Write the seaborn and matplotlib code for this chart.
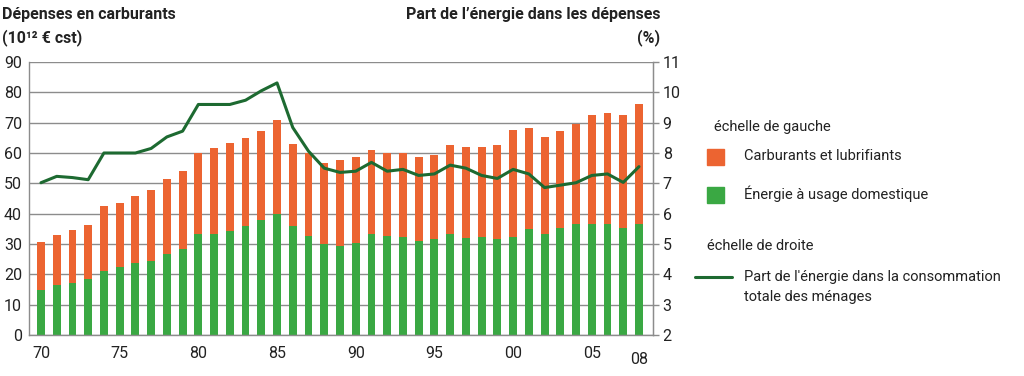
import numpy as np
import pandas as pd
import matplotlib
matplotlib.use('Agg')
import matplotlib.pyplot as plt
import matplotlib.patches as mpatches
import matplotlib.lines as mlines
import seaborn as sns

years = list(range(1970, 2009))
# total bar height (carburants + domestique), 10^12 EUR cst
total = [30.7, 33.0, 34.6, 36.2, 42.4, 43.5, 45.7, 47.7, 51.3, 54.2,
         60.0, 61.7, 63.4, 65.0, 67.2, 70.9, 63.0, 60.0, 56.8, 57.8,
         58.8, 61.1, 59.9, 59.9, 58.8, 59.3, 62.6, 62.0, 62.0, 62.6,
         67.5, 68.2, 65.2, 67.2, 69.7, 72.5, 73.2, 72.5, 76.2]
domestique = [15.0, 16.4, 17.3, 18.4, 21.2, 22.4, 23.6, 24.4, 26.7, 28.2,
              33.3, 33.3, 34.3, 36.0, 37.9, 40.0, 36.0, 32.8, 30.1, 29.5,
              30.4, 33.4, 32.7, 32.3, 31.0, 31.5, 33.4, 32.1, 32.3, 31.5,
              32.3, 34.8, 33.4, 35.4, 36.7, 36.7, 36.7, 35.4, 36.7]
# part de l'energie dans la consommation totale des menages (%)
part = [7.02, 7.23, 7.19, 7.12, 8.0, 8.0, 8.0, 8.15, 8.53, 8.72,
        9.6, 9.6, 9.6, 9.74, 10.05, 10.31, 8.84, 8.06, 7.5, 7.36,
        7.4, 7.69, 7.4, 7.46, 7.26, 7.31, 7.6, 7.5, 7.26, 7.16,
        7.46, 7.31, 6.86, 6.94, 7.02, 7.26, 7.31, 7.03, 7.55]
tick_labels = ['70', '75', '80', '85', '90', '95', '00', '05', '08']
tick_years = [1970, 1975, 1980, 1985, 1990, 1995, 2000, 2005, 2008]

orange = '#ec6431'
green = '#3aa843'
dark_green = '#1d6a31'
grid_col = '#8c8c8c'
txt_col = '#222222'

sns.set_style('white')
plt.rcParams['font.family'] = ['Roboto', 'DejaVu Sans']

df = pd.DataFrame({'annee': [str(y) for y in years], 'total': total,
                   'domestique': domestique, 'part': part})

fig = plt.figure(figsize=(10.24, 3.76), dpi=100)
ax = fig.add_axes([29 / 1024, 1 - 335 / 376, (653 - 29) / 1024, (335 - 62) / 376])

sns.barplot(data=df, x='annee', y='total', color=orange, width=0.5,
            saturation=1, linewidth=0, ax=ax)
sns.barplot(data=df, x='annee', y='domestique', color=green, width=0.5,
            saturation=1, linewidth=0, ax=ax)

ax.set_ylim(0, 90)
ax.set_yticks(range(0, 91, 10))
ax.set_xlim(-0.76, len(years) - 1 + 0.89)
ax.set_xticks([years.index(y) for y in tick_years])
ax.set_xticklabels(tick_labels)
ax.set_xlabel('')
ax.set_ylabel('')
ax.grid(axis='y', color=grid_col, linewidth=1)
ax.set_axisbelow(True)
ax.tick_params(axis='both', length=0, labelsize=11.5, colors=txt_col)
ax.tick_params(axis='x', pad=8)
ax.tick_params(axis='y', pad=5)
ax.xaxis.get_major_ticks()[-1].set_pad(12)
for s in ax.spines.values():
    s.set_color(grid_col)
    s.set_linewidth(1)
ax.spines['top'].set_visible(False)

ax2 = ax.twinx()
sns.lineplot(x=np.arange(len(years)), y=part, color=dark_green, linewidth=2.2,
             ax=ax2)
ax2.set_ylim(2, 11)
ax2.set_yticks(range(2, 12))
ax2.tick_params(axis='y', length=4, width=1, labelsize=11.5,
                colors=txt_col, pad=3)
ax2.tick_params(axis='y', color=grid_col)
for s in ax2.spines.values():
    s.set_visible(False)
ax2.spines['right'].set_visible(True)
ax2.spines['right'].set_color(grid_col)

# titles
tfs = 11.5
fig.text(2 / 1024, 1 - 14 / 376, 'Dépenses en carburants', fontsize=tfs,
         fontweight='bold', va='center', ha='left', color=txt_col)
fig.text(2 / 1024, 1 - 38 / 376, '(10¹² € cst)', fontsize=tfs,
         fontweight='bold', va='center', ha='left', color=txt_col)
fig.text(661 / 1024, 1 - 14 / 376, "Part de l’énergie dans les dépenses",
         fontsize=tfs, fontweight='bold', va='center', ha='right', color=txt_col)
fig.text(660 / 1024, 1 - 38 / 376, '(%)', fontsize=tfs, fontweight='bold',
         va='center', ha='right', color=txt_col)

# legend
lfs = 10.5
fig.text(714 / 1024, 1 - 127 / 376, 'échelle de gauche', fontsize=lfs,
         va='center', color=txt_col)
fig.patches.append(mpatches.Rectangle((707 / 1024, 1 - 165 / 376), 17 / 1024,
                                      16 / 376, transform=fig.transFigure,
                                      color=orange))
fig.text(744 / 1024, 1 - 156 / 376, 'Carburants et lubrifiants', fontsize=lfs,
         va='center', color=txt_col)
fig.patches.append(mpatches.Rectangle((707 / 1024, 1 - 203 / 376), 17 / 1024,
                                      16 / 376, transform=fig.transFigure,
                                      color=green))
fig.text(744 / 1024, 1 - 194 / 376, 'Énergie à usage domestique', fontsize=lfs,
         va='center', color=txt_col)
fig.text(707 / 1024, 1 - 246 / 376, 'échelle de droite', fontsize=lfs,
         va='center', color=txt_col)
fig.lines.append(mlines.Line2D([695 / 1024, 732 / 1024], [1 - 277 / 376, 1 - 277 / 376],
                               transform=fig.transFigure, color=dark_green,
                               linewidth=2.2))
fig.text(744 / 1024, 1 - 277 / 376, "Part de l'énergie dans la consommation",
         fontsize=lfs, va='center', color=txt_col)
fig.text(744 / 1024, 1 - 297 / 376, 'totale des ménages', fontsize=lfs,
         va='center', color=txt_col)

fig.savefig('out.png', dpi=100)
